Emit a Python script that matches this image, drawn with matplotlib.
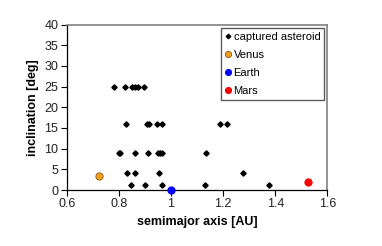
import matplotlib
matplotlib.use("Agg")
from matplotlib import pyplot as plt

# captured asteroids: semimajor axis [AU] and inclination [deg]
ast_a = [0.780, 0.823, 0.852, 0.862, 0.872, 0.895,
         0.827, 0.908, 0.916, 0.945, 0.966, 1.186, 1.215,
         0.799, 0.806, 0.862, 0.910, 0.949, 0.957, 0.966, 1.136,
         0.833, 0.862, 0.955, 1.275,
         0.846, 0.900, 0.966, 1.130, 1.377]
ast_i = [25, 25, 25, 25, 25, 25,
         16, 16, 16, 16, 16, 16, 16,
         9, 9, 9, 9, 9, 9, 9, 9,
         4, 4, 4, 4,
         1.2, 1.2, 1.2, 1.2, 1.2]

planet_names = ["Venus", "Earth", "Mars"]
planet_a = [0.723, 1.0, 1.524]
planet_i = [3.4, 0.0, 1.85]
planet_colors = ["#f0a020", "#0000ff", "#ff0000"]
planet_edges = ["#a06010", "#0000ff", "#ff0000"]

plt.rcParams["font.family"] = "Liberation Sans"

fig = plt.figure(figsize=(3.82, 2.46), dpi=100)
ax = fig.add_axes([0.1746, 0.2276, 0.6827, 0.6728])

ax.plot(ast_a, ast_i, linestyle="none", marker="D", markersize=2.7,
        color="black", label="captured asteroid", clip_on=False, zorder=3)
for name, a, inc, c, ec in zip(planet_names, planet_a, planet_i, planet_colors, planet_edges):
    ax.plot([a], [inc], linestyle="none", marker="o", markersize=5.2,
            markerfacecolor=c, markeredgecolor=ec, markeredgewidth=0.7,
            label=name, clip_on=False, zorder=4)

ax.set_xlim(0.6, 1.6)
ax.set_ylim(0, 40)
ax.set_xticks([0.6, 0.8, 1.0, 1.2, 1.4, 1.6])
ax.set_xticklabels(["0.6", "0.8", "1", "1.2", "1.4", "1.6"])
ax.set_yticks(range(0, 41, 5))
ax.tick_params(direction="out", length=4, width=0.8, labelsize=9,
               labelcolor="#222222", pad=2)

for s in ["left", "bottom"]:
    ax.spines[s].set_color("black")
    ax.spines[s].set_linewidth(0.9)
for s in ["top", "right"]:
    ax.spines[s].set_color("#808080")
    ax.spines[s].set_linewidth(1.2)

ax.set_xlabel("semimajor axis [AU]", fontsize=9, fontweight="bold", labelpad=4)
ax.set_ylabel("inclination [deg]", fontsize=9, fontweight="bold", labelpad=4)

leg = ax.legend(loc="upper right", fontsize=8, frameon=True, fancybox=False,
                edgecolor="#333333", handlelength=0.5, handletextpad=0.25,
                borderpad=0.35, labelspacing=0.72, borderaxespad=0.3,
                markerscale=0.85)
leg.get_frame().set_linewidth(1.0)

fig.savefig("out.png", dpi=100)
